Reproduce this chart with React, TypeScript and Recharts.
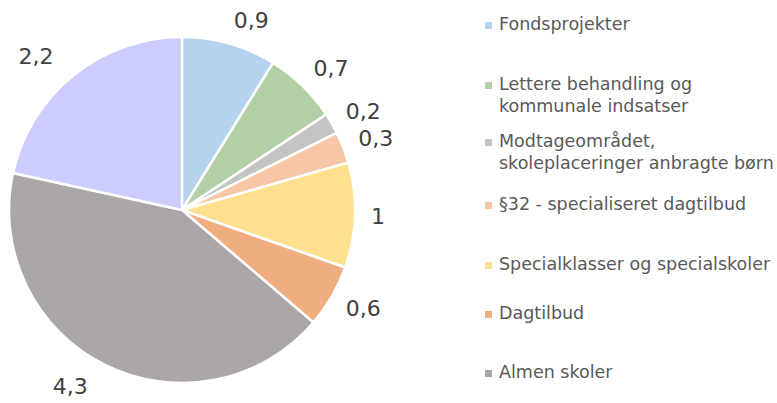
import React from 'react';
import { PieChart, Pie, Cell, Legend } from 'recharts';

const categories = [
  'Fondsprojekter',
  'Lettere behandling og kommunale indsatser',
  'Modtageområdet, skoleplaceringer anbragte børn',
  '§32 - specialiseret dagtilbud',
  'Specialklasser og specialskoler',
  'Dagtilbud',
  'Almen skoler',
  '',
];
const values = [0.9, 0.7, 0.2, 0.3, 1, 0.6, 4.3, 2.2];
const colors = ['#B5D2EE', '#B3CFA5', '#C4C4C4', '#F7C6A7', '#FFE08F', '#F0AD80', '#ABA7A7', '#CCCCFE'];
const legendLines = [
  ['Fondsprojekter'],
  ['Lettere behandling og', 'kommunale indsatser'],
  ['Modtageområdet,', 'skoleplaceringer anbragte børn'],
  ['§32 - specialiseret dagtilbud'],
  ['Specialklasser og specialskoler'],
  ['Dagtilbud'],
  ['Almen skoler'],
];

// layout constants (first-line centre of each legend item)
const LEGEND_Y = [25, 85, 142, 205, 265, 314, 373];
const LINE_H = 21.5;

const data = categories.map((name, i) => ({ name, value: values[i] }));

const fmt = (v: number) => String(v).replace('.', ',');

const renderLabel = (props: any) => {
  const { cx, cy, midAngle, outerRadius, value } = props;
  const rad = Math.PI / 180;
  const dx = Math.cos(-midAngle * rad);
  const dy = Math.sin(-midAngle * rad);
  const r = outerRadius + 16;
  const px = cx + r * dx - (dx < 0 ? 10 : 0);
  const py = cy + r * dy;
  const anchor = dx > 0.15 ? 'start' : dx < -0.15 ? 'end' : 'middle';
  const y = py + dy * 8;
  return (
    <text
      x={px}
      y={y}
      textAnchor={anchor}
      dominantBaseline="central"
      fill="#404040"
      fontFamily="DejaVu Sans"
      fontSize={22}
    >
      {fmt(value)}
    </text>
  );
};

const renderLegend = () => {
  const items = categories
    .map((name, i) => ({ name, color: colors[i], i }))
    .filter((d) => d.name);
  return (
    <div style={{ position: 'relative', width: 297, height: 403 }}>
      {items.map((p, k) => {
        const lines = legendLines[p.i] || [p.name];
        const top = LEGEND_Y[k] - LINE_H / 2;
        return (
          <div key={k} style={{ position: 'absolute', left: 0, top, width: 297 }}>
            <div
              style={{
                position: 'absolute',
                left: 5,
                top: LINE_H / 2 - 3.5,
                width: 7,
                height: 7,
                background: p.color,
              }}
            />
            <div
              style={{
                position: 'absolute',
                left: 19,
                top: 0,
                fontFamily: 'DejaVu Sans',
                fontSize: 17.5,
                lineHeight: LINE_H + 'px',
                color: '#595959',
                whiteSpace: 'nowrap',
              }}
            >
              {lines.map((l, j) => (
                <div key={j}>{l}</div>
              ))}
            </div>
          </div>
        );
      })}
    </div>
  );
};

export default function App() {
  return (
    <div style={{ position: 'absolute', left: 0, top: 0 }}>
      <PieChart width={777} height={403} margin={{ top: 0, right: 0, bottom: 0, left: 0 }}>
        <Pie
          data={data}
          dataKey="value"
          nameKey="name"
          cx={182}
          cy={210}
          outerRadius={173}
          startAngle={90}
          endAngle={-270}
          stroke="#FFFFFF"
          strokeWidth={2.5}
          label={renderLabel}
          labelLine={false}
          isAnimationActive={false}
        >
          {data.map((d, i) => (
            <Cell key={i} fill={colors[i]} />
          ))}
        </Pie>
        <Legend
          layout="vertical"
          align="right"
          verticalAlign="top"
          content={renderLegend}
          wrapperStyle={{ position: 'absolute', left: 480, top: 0, width: 297, height: 403 }}
        />
      </PieChart>
    </div>
  );
}
